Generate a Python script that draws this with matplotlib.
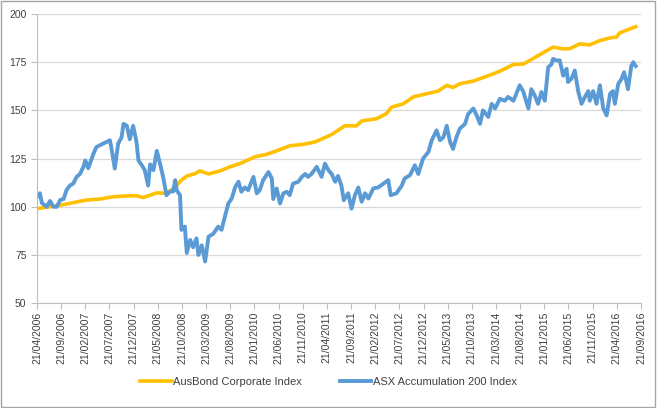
import matplotlib
matplotlib.use("Agg")
import matplotlib.pyplot as plt
from matplotlib.patches import Rectangle

# months since 21/04/2006
date_labels = ["21/04/2006", "21/09/2006", "21/02/2007", "21/07/2007", "21/12/2007",
               "21/05/2008", "21/10/2008", "21/03/2009", "21/08/2009", "21/01/2010",
               "21/06/2010", "21/11/2010", "21/04/2011", "21/09/2011", "21/02/2012",
               "21/07/2012", "21/12/2012", "21/05/2013", "21/10/2013", "21/03/2014",
               "21/08/2014", "21/01/2015", "21/06/2015", "21/11/2015", "21/04/2016",
               "21/09/2016"]

bond_months = [0, 3.4, 6.1, 10, 13, 15.8, 19.2, 20.6, 22, 24.8, 26.8, 28.2, 29.9, 31,
               32.7, 33.7, 35.5, 37.9, 39.9, 42, 45.1, 47.5, 49.6, 52.3, 55.1, 57.5,
               60.6, 61.3, 63.7, 66.1, 67.2, 70.3, 72.3, 73.4, 75.8, 77.9, 80.6, 83,
               84.8, 86.1, 87.5, 90.3, 93, 95.8, 98.6, 100.6, 102, 104.8, 106.8, 108.9,
               110.3, 112.3, 114.4, 116.5, 118.6, 119.9, 120.6, 123.9]
bond_values = [99, 100.3, 101.4, 103.4, 104, 105.2, 105.7, 105.7, 104.8, 107.2, 107,
               109.5, 113.8, 115.9, 117.2, 118.6, 117, 118.6, 120.7, 122.4, 125.9, 127.2,
               129, 131.6, 132.4, 133.6, 137, 138, 142, 142, 144.5, 145.7, 148.3, 151.7,
               153.4, 157, 158.6, 160, 163, 161.9, 163.8, 165.2, 167.6, 170.3, 173.8, 174,
               175.9, 180, 182.8, 181.9, 182, 184.5, 184, 186.2, 187.6, 188, 190.2, 193.4]

asx_months = [0, 0.6, 1, 2, 2.7, 3.4, 4.1, 4.8, 5.5, 6.1, 6.8, 7.5, 8.2, 8.9, 9.6, 10,
              10.6, 11.7, 12.3, 13.7, 14.4, 15.1, 15.5, 16.1, 16.8, 17.5, 17.9, 18.6,
              19.2, 19.9, 20.6, 21, 21.7, 22.3, 23, 23.4, 24.1, 24.8, 25.5, 26.1, 26.8,
              27.5, 28.2, 28.6, 28.9, 29.6, 29.9, 30.6, 31, 31.7, 32.3, 33, 33.4, 34.1,
              34.8, 35.5, 36.5, 37.5, 38.2, 38.9, 39.6, 40.3, 41, 41.7, 42.3, 43, 43.7,
              44.8, 45.5, 46.1, 46.8, 47.9, 48.6, 48.9, 49.6, 50.3, 51, 51.7, 52.3, 53,
              54.1, 54.8, 55.5, 56.1, 56.8, 57.9, 58.9, 59.6, 60.3, 61, 61.7, 62.3, 63,
              63.5, 64.4, 65.1, 65.8, 66.5, 67.2, 67.9, 68.6, 69.6, 70.6, 71.7, 72.7,
              73.2, 74.4, 75.5, 76.1, 77.2, 78.2, 78.9, 79.9, 81, 81.7, 82.7, 83.4, 84.1,
              84.8, 85.5, 86.1, 86.8, 87.5, 88.6, 89.2, 90.3, 91, 91.7, 92.3, 93.4, 94.1,
              94.8, 95.8, 96.8, 97.5, 98.6, 99.2, 99.9, 100.6, 101.7, 102.3, 103, 103.7,
              104.4, 105.1, 105.8, 106.5, 106.8, 107.5, 108.2, 108.9, 109.6, 109.9,
              110.6, 111.3, 112, 112.7, 113.4, 114.1, 114.4, 115.1, 115.8, 116.5, 117.2,
              117.9, 118.6, 119.2, 119.6, 120.3, 121, 121.5, 122, 122.3, 123, 123.4, 123.9]
asx_values = [105, 107, 102, 100, 103, 100, 100, 103.5, 104, 108.6, 111, 112, 115.5, 117,
              120.7, 124, 120, 127.6, 131, 132.8, 133.6, 134.5, 129, 119.8, 132.8, 136,
              143, 142, 135, 142, 133.6, 124, 121.5, 119, 111, 122, 119, 129, 122, 115.5,
              106, 107.8, 108, 113.8, 108.6, 106, 88, 89.7, 76, 82.8, 79, 83.6, 75, 80,
              71.6, 84.5, 86, 89.7, 88, 95, 101.7, 104.3, 110, 113, 107.8, 110, 108.6,
              115.5, 107, 108.6, 113.8, 118, 114.7, 104, 109.5, 101.7, 107, 107.8, 106,
              112, 113, 115.5, 117, 115.5, 117, 120.7, 115.5, 122.4, 119, 117, 113, 116,
              111, 103.4, 107, 99, 106, 110, 102.6, 107, 104.3, 109.5, 110, 112, 113.8,
              106, 107, 111, 114.7, 116.4, 121.5, 117, 125, 128.4, 134.5, 139.6, 134.5,
              136, 142, 133.6, 130, 136, 140.5, 143, 148, 151, 147.4, 143, 150, 146.6,
              153.4, 151, 156, 155, 157, 155, 158.6, 163, 160, 151, 161, 157.8, 153.4,
              159.5, 155, 172.4, 174, 176.7, 175.9, 175.9, 168, 171.6, 164.7, 166.4,
              170.7, 160, 153.4, 157, 160, 155, 160, 153.4, 163, 151, 147.4, 158.6, 160,
              153.4, 163.8, 166.4, 169.8, 164.7, 161, 173, 175, 173]

y_ticks = [50, 75, 100, 125, 150, 175, 200]


def main():
    plt.rcParams['font.family'] = ['Liberation Sans', 'DejaVu Sans']
    fig = plt.figure(figsize=(6.57, 4.08), dpi=100)
    ax = fig.add_axes([0.0563, 0.257, 0.9193, 0.7087])

    ax.plot(bond_months, bond_values, color='#FFC000', lw=2.6,
            label='AusBond Corporate Index', solid_joinstyle='round')
    ax.plot(asx_months, asx_values, color='#5B9BD5', lw=2.8,
            label='ASX Accumulation 200 Index', solid_joinstyle='round')

    ax.set_xlim(0, 125)
    ax.set_ylim(50, 200)
    ax.set_yticks(y_ticks)
    ax.set_xticks(range(0, 126, 5))
    ax.set_xticklabels(date_labels, rotation=90)
    ax.grid(axis='y', color='#d9d9d9', lw=0.9)
    ax.set_axisbelow(True)

    for s in ['top', 'right']:
        ax.spines[s].set_visible(False)
    for s in ['left', 'bottom']:
        ax.spines[s].set_color('#bfbfbf')
    ax.tick_params(colors='#bfbfbf', labelcolor='#404040', labelsize=7.5,
                   length=4, width=0.8)
    ax.tick_params(axis='x', labelsize=7.5, pad=2)

    fig.legend(loc='center', bbox_to_anchor=(0.5, 0.063), ncol=2, frameon=False,
               fontsize=8, handlelength=2.8, handletextpad=0.1, columnspacing=3.5,
               labelcolor='#404040')

    fig.patches.append(Rectangle((0.002, 0.003), 0.995, 0.994, transform=fig.transFigure,
                                 fill=False, edgecolor='#a6a6a6', lw=1))

    fig.savefig('out.png', dpi=100)
    plt.close()


if __name__ == "__main__":
    main()
